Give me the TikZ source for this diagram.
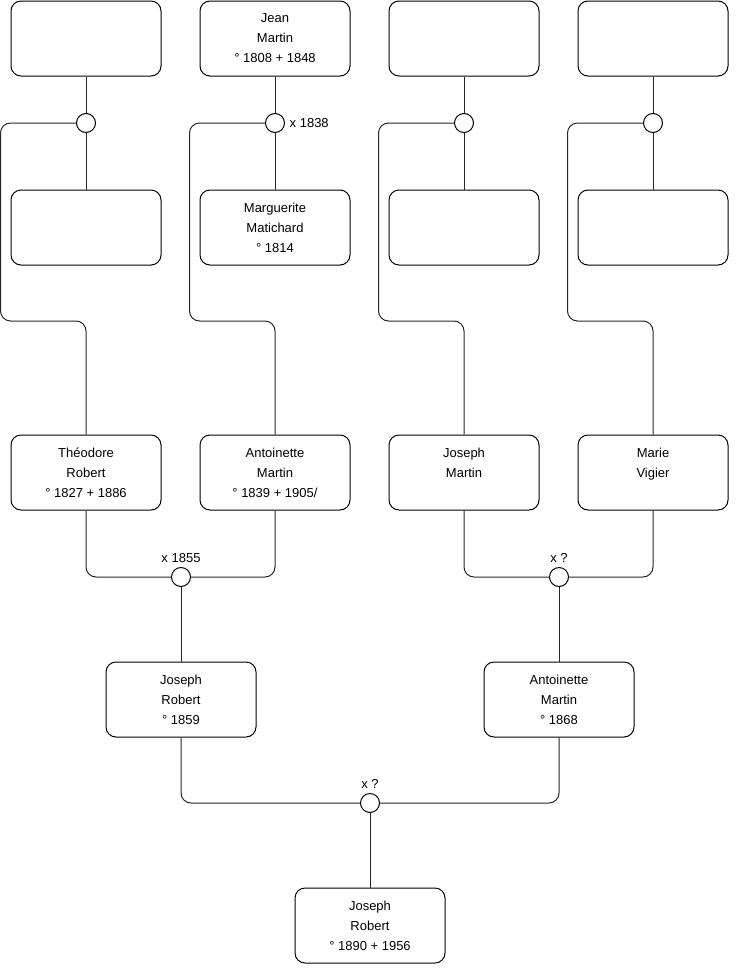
\documentclass[tikz,border=0pt]{standalone}
\usepackage{fontspec}
\setmainfont{Liberation Sans}
\usetikzlibrary{positioning}

\begin{document}
\begin{tikzpicture}[
    x=0.75pt, y=-0.75pt,
    person/.style={rectangle, draw=black, line width=0.75pt, rounded corners=7.5pt, minimum width=112.5pt, minimum height=56.25pt, align=center, font=\fontsize{9.75}{15}\selectfont},
    union/.style={circle, draw=black, line width=0.75pt, fill=white, minimum size=14.25pt, inner sep=0pt},
    tag/.style={font=\fontsize{9.75}{11}\selectfont},
    link/.style={draw=black!85, line width=0.75pt, rounded corners=7.5pt}
]
    \useasboundingbox (0,0) rectangle (740,975);

    % great-grandparents
    \node[person] (g1) at (86,38.5) {};
    \node[person] (g2) at (275,38.5) {Jean\\ Martin\\ ° 1808 + 1848};
    \node[person] (g3) at (464,38.5) {};
    \node[person] (g4) at (653,38.5) {};

    \node[union] (c1) at (86,123) {};
    \node[union, label={[tag]right:x 1838}] (c2) at (275,123) {};
    \node[union] (c3) at (464,123) {};
    \node[union] (c4) at (653,123) {};

    \node[person] (s1) at (86,227.5) {};
    \node[person] (s2) at (275,227.5) {Marguerite\\ Matichard\\ ° 1814};
    \node[person] (s3) at (464,227.5) {};
    \node[person] (s4) at (653,227.5) {};

    % grandparents
    \node[person] (p1) at (86,472.5) {Théodore\\ Robert\\ ° 1827 + 1886};
    \node[person] (p2) at (275,472.5) {Antoinette\\ Martin\\ ° 1839 + 1905/};
    \node[person] (p3) at (464,472.5) {Joseph\\ Martin\\ \mbox{}};
    \node[person] (p4) at (653,472.5) {Marie\\ Vigier\\ \mbox{}};

    \node[union, label={[tag]above:x 1855}] (m1) at (181,577) {};
    \node[union, label={[tag]above:x ?}] (m2) at (559,577) {};

    % parents
    \node[person] (j1) at (181,699.5) {Joseph\\ Robert\\ ° 1859};
    \node[person] (j2) at (559,699.5) {Antoinette\\ Martin\\ ° 1868};

    \node[union, label={[tag]above:x ?}] (m3) at (370,803) {};

    \node[person] (jr) at (370,925.5) {Joseph\\ Robert\\ ° 1890 + 1956};

    % top couples
    \foreach \i in {1,2,3,4} {
        \draw[link] (g\i.south) -- (c\i.north);
        \draw[link] (c\i.south) -- (s\i.north);
        \draw[link] (c\i.west) -| ++(-75.5,198) -| (p\i.north);
    }

    % lower couples
    \draw[link] (p1.south) |- (m1.west);
    \draw[link] (p2.south) |- (m1.east);
    \draw[link] (p3.south) |- (m2.west);
    \draw[link] (p4.south) |- (m2.east);
    \draw[link] (m1.south) -- (j1.north);
    \draw[link] (m2.south) -- (j2.north);
    \draw[link] (j1.south) |- (m3.west);
    \draw[link] (j2.south) |- (m3.east);
    \draw[link] (m3.south) -- (jr.north);
\end{tikzpicture}
\end{document}
